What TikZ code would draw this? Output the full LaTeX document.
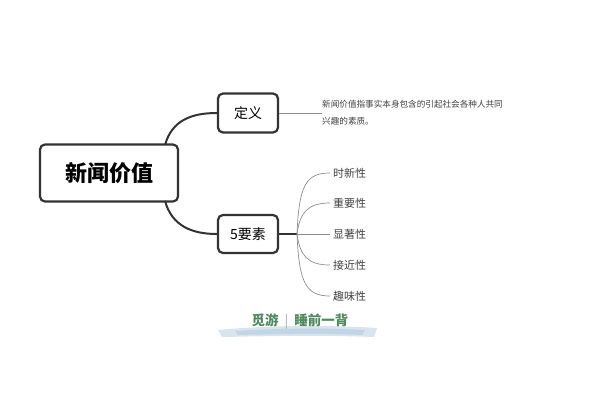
\documentclass[tikz,border=0pt]{standalone}
\usepackage{fontspec}
\setmainfont{Noto Sans CJK SC}
\definecolor{wmgreen}{RGB}{78,138,92}
\definecolor{wmblue}{RGB}{178,202,222}
\begin{document}
\begin{tikzpicture}[x=1pt,y=-1pt,
  box/.style={draw=black!80,line width=2.2pt,rounded corners=5pt,fill=white,inner sep=0pt,align=center},
  conn/.style={draw=black!80,line width=2pt},
  thin/.style={draw=black!45,line width=0.7pt},
  leaf/.style={anchor=west,inner sep=0pt,font=\fontsize{11}{13}\selectfont,text=black!75}]
\useasboundingbox (0,0) rectangle (600,400);
\node[box,minimum width=138pt,minimum height=57pt,font=\fontsize{22}{24}\selectfont\bfseries] (main) at (109,173) {新闻价值};
\node[box,minimum width=60pt,minimum height=39pt,font=\fontsize{14}{16}\selectfont] (def) at (248,113) {定义};
\node[box,minimum width=60pt,minimum height=38pt,font=\fontsize{14}{16}\selectfont] (ele) at (248,234) {5要素};
\coordinate (m1) at (165,145);
\coordinate (m2) at (165,201);
\draw[conn] (m1) .. controls (172,120) and (192,113) .. (def.west);
\draw[conn] (m2) .. controls (172,226) and (192,234) .. (ele.west);
% definition
\node[anchor=west,inner sep=0pt,align=left,font=\fontsize{8.6}{17}\selectfont,text=black!75] (txt) at (322,113) {新闻价值指事实本身包含的引起社会各种人共同\\兴趣的素质。};
\draw[thin] (def.east) -- (txt.west);
% elements
\coordinate (o) at (297,234);
\draw[conn,line width=1.5pt] (ele.east) -- (o);
\node[leaf] (c1) at (333,173) {时新性};
\node[leaf] (c2) at (333,203) {重要性};
\node[leaf] (c3) at (333,234) {显著性};
\node[leaf] (c4) at (333,265) {接近性};
\node[leaf] (c5) at (333,296) {趣味性};
\draw[thin] (o) .. controls (299,185) and (306,173) .. ([xshift=-3pt]c1.west);
\draw[thin] (o) .. controls (300,212) and (308,203) .. ([xshift=-3pt]c2.west);
\draw[thin] (o) -- ([xshift=-3pt]c3.west);
\draw[thin] (o) .. controls (300,256) and (308,265) .. ([xshift=-3pt]c4.west);
\draw[thin] (o) .. controls (299,283) and (306,296) .. ([xshift=-3pt]c5.west);
% watermark
\fill[wmblue,opacity=0.5] (218,330) .. controls (270,325) and (330,325) .. (377,328) -- (374,337) .. controls (320,335) and (270,336) .. (222,337) -- cycle;
\fill[wmblue,opacity=0.6] (235,331) .. controls (280,328) and (330,328) .. (365,330) -- (362,335) .. controls (320,333) and (280,334) .. (238,335) -- cycle;
\node[inner sep=0pt,font=\fontsize{13.5}{15}\selectfont\bfseries,text=wmgreen] (wm) at (300,322) {觅游\hspace{6pt}{\color{black!35}\fontseries{m}\selectfont|}\hspace{6pt}睡前一背};
\end{tikzpicture}
\end{document}
